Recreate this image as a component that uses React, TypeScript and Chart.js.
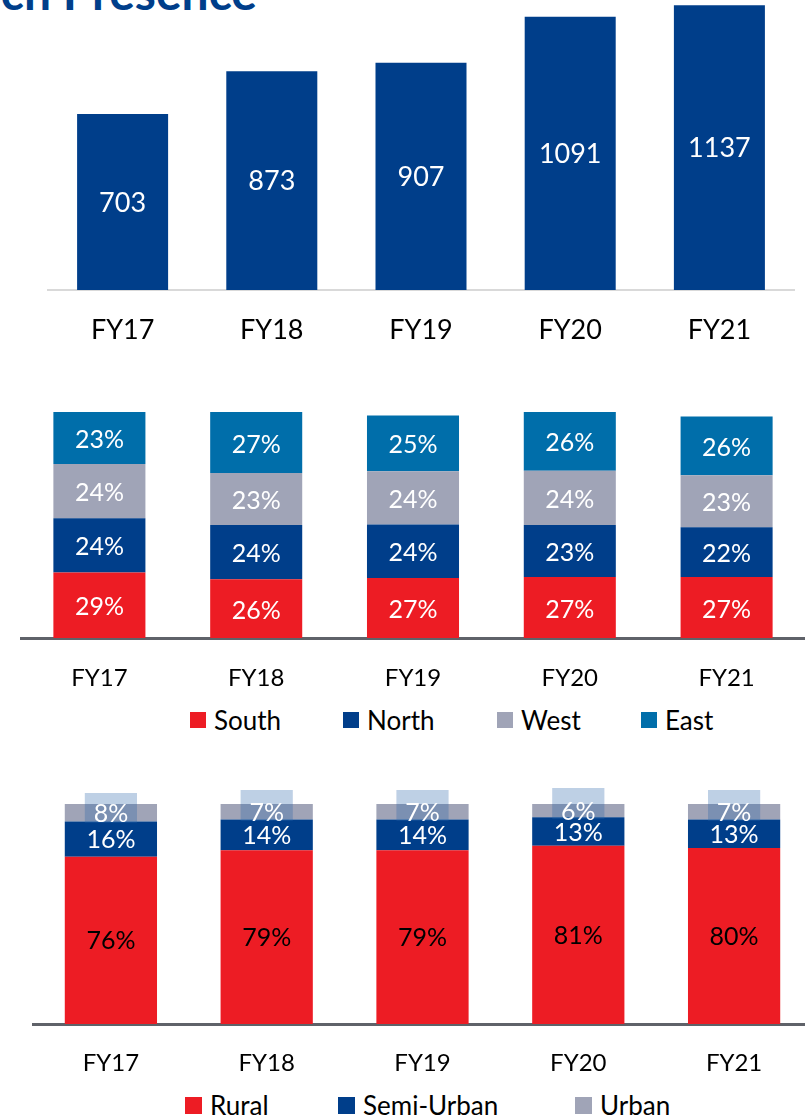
import React, { useEffect, useRef } from "react";
import { Chart, registerables } from "chart.js";

Chart.register(...registerables);

// ---------- data ----------
const categories = ["FY17", "FY18", "FY19", "FY20", "FY21"];
const branches = [703, 873, 907, 1091, 1137];

const regionNames = ["South", "North", "West", "East"];
const south = [29, 26, 26.6, 27, 27];
const north = [24, 24, 23.6, 23, 22];
const west = [24, 23, 23.6, 24, 23];
const east = [23, 27, 24.6, 26, 26];

const areaNames = ["Rural", "Semi-Urban", "Urban"];
const rural = [76, 79, 79, 81, 80];
const semiUrban = [16, 14, 14, 13, 13];
const urban = [8, 7, 7, 6, 7];
const urbanHighlight = [
  [91.4, 105],
  [92.3, 106.4],
  [92.3, 106.4],
  [93.2, 107.3],
  [92.3, 106.4],
];

// ---------- styles ----------
const FONT = "Lato, 'Open Sans', sans-serif";
const RED = "#ed1c24";
const NAVY = "#003e8a";
const GREY = "#a0a4b7";
const TEAL = "#006eaa";
const regionColors = [RED, NAVY, GREY, TEAL];
const areaColors = [RED, NAVY, GREY];
const regionLegendX = [190, 343, 497, 641];
const areaLegendX = [185, 338, 575];

const valueLabels = {
  id: "valueLabels",
  afterDatasetsDraw(chart: any) {
    const ctx = chart.ctx;
    chart.data.datasets.forEach((ds: any, di: number) => {
      const lab = ds.labelStyle;
      if (!lab) return;
      const meta = chart.getDatasetMeta(di);
      meta.data.forEach((el: any, i: number) => {
        const v = ds.data[i];
        const p = el.getProps(["x", "y", "base"], true);
        ctx.save();
        ctx.font = lab.font;
        ctx.fillStyle = lab.color;
        ctx.textAlign = "center";
        ctx.textBaseline = "middle";
        ctx.fillText(lab.format(v), p.x, (p.y + p.base) / 2 + (lab.dy || 0));
        ctx.restore();
      });
    });
  },
};

const pct = (v: number) => Math.round(v) + "%";

function xAxis(fontSize: number, padding: number, height: number, borderColor: string, borderWidth: number) {
  return {
    stacked: true,
    grid: { display: false, drawTicks: false, tickLength: 0 },
    border: { display: true, color: borderColor, width: borderWidth },
    ticks: { color: "#000", font: { family: FONT, size: fontSize }, padding, maxRotation: 0 },
    afterFit: (s: any) => {
      s.height = height;
    },
  };
}

function useChart(ref: any, config: () => any) {
  useEffect(() => {
    const chart = new Chart(ref.current, config());
    return () => chart.destroy();
  }, []);
}

function TopChart() {
  const ref = useRef<HTMLCanvasElement>(null);
  useChart(ref, () => ({
    type: "bar",
    data: {
      labels: categories,
      datasets: [
        {
          label: "Branches",
          data: branches,
          backgroundColor: NAVY,
          barPercentage: 0.61,
          categoryPercentage: 1,
          labelStyle: { font: `27px ${FONT}`, color: "#fff", format: (v: number) => String(v), dy: 1 },
        },
      ],
    },
    options: {
      animation: false,
      responsive: false,
      devicePixelRatio: 1,
      layout: { padding: { left: 48, right: 11, top: 2, bottom: 0 } },
      plugins: { legend: { display: false }, tooltip: { enabled: false } },
      scales: {
        x: xAxis(27, 24, 70, "#d9d9d9", 2),
        y: { display: false, min: 0, max: 1150 },
      },
    },
    plugins: [valueLabels],
  }));
  return <canvas ref={ref} width={805} height={360} style={{ position: "absolute", left: 0, top: 0 }} />;
}

function RegionChart() {
  const ref = useRef<HTMLCanvasElement>(null);
  const series = [south, north, west, east];
  useChart(ref, () => ({
    type: "bar",
    data: {
      labels: categories,
      datasets: series.map((d, i) => ({
        label: regionNames[i],
        data: d,
        backgroundColor: regionColors[i],
        barPercentage: 0.587,
        categoryPercentage: 1,
        labelStyle: { font: `25px ${FONT}`, color: "#fff", format: pct, dy: 2 },
      })),
    },
    options: {
      animation: false,
      responsive: false,
      devicePixelRatio: 1,
      layout: { padding: { left: 21, right: 0, top: 12, bottom: 0 } },
      plugins: { legend: { display: false }, tooltip: { enabled: false } },
      scales: {
        x: xAxis(24, 26, 62, "#5f6269", 3),
        y: { display: false, stacked: true, min: 0, max: 100 },
      },
    },
    plugins: [valueLabels],
  }));
  return <canvas ref={ref} width={805} height={300} style={{ position: "absolute", left: 0, top: 400 }} />;
}

function AreaChart() {
  const ref = useRef<HTMLCanvasElement>(null);
  const series = [rural, semiUrban, urban];
  useChart(ref, () => ({
    type: "bar",
    data: {
      labels: categories,
      datasets: [
        ...series.map((d, i) => ({
          label: areaNames[i],
          data: d,
          backgroundColor: areaColors[i],
          barPercentage: 0.592,
          categoryPercentage: 1,
          grouped: false,
          stack: "areas",
          order: 1,
          labelStyle: { font: `25px ${FONT}`, color: i === 0 ? "#000" : "#fff", format: pct, dy: 1 },
        })),
        {
          label: "highlight",
          data: urbanHighlight,
          backgroundColor: "rgba(40,100,170,0.3)",
          barPercentage: 0.335,
          categoryPercentage: 1,
          grouped: false,
          stack: "hl",
          order: 0,
        },
      ],
    },
    options: {
      animation: false,
      responsive: false,
      devicePixelRatio: 1,
      layout: { padding: { left: 33, right: 0, top: 12, bottom: 0 } },
      plugins: { legend: { display: false }, tooltip: { enabled: false } },
      scales: {
        x: xAxis(24, 25, 60, "#5f6269", 3),
        y: { display: false, stacked: true, min: 0, max: 110 },
      },
    },
    plugins: [valueLabels],
  }));
  return <canvas ref={ref} width={812} height={314} style={{ position: "absolute", left: 0, top: 770 }} />;
}

function Legend({ names, colors, xs, top, box }: any) {
  return (
    <div style={{ position: "absolute", left: 0, top, width: 805, height: 30, fontFamily: FONT, fontSize: 26, color: "#000" }}>
      {names.map((n: string, i: number) => (
        <div
          key={n}
          style={{ position: "absolute", left: xs[i], top: 0, height: 30, display: "flex", alignItems: "center", whiteSpace: "nowrap" }}
        >
          <span style={{ display: "inline-block", width: box, height: box, background: colors[i], marginRight: 8 }} />
          <span style={{ lineHeight: "30px" }}>{n}</span>
        </div>
      ))}
    </div>
  );
}

export default function App() {
  return (
    <div
      style={{
        position: "absolute",
        left: 0,
        top: 0,
        width: 805,
        height: 1119,
        overflow: "hidden",
        background: "#fff",
      }}
    >
      <div
        style={{
          position: "absolute",
          right: 805 - 257,
          top: -32,
          fontFamily: FONT,
          fontWeight: 700,
          fontSize: 48,
          lineHeight: "48px",
          color: NAVY,
          whiteSpace: "nowrap",
        }}
      >
        Branch Presence
      </div>
      <TopChart />
      <RegionChart />
      <Legend names={regionNames} colors={regionColors} xs={regionLegendX} top={705} box={16} />
      <AreaChart />
      <Legend names={areaNames} colors={areaColors} xs={areaLegendX} top={1090} box={17} />
    </div>
  );
}
